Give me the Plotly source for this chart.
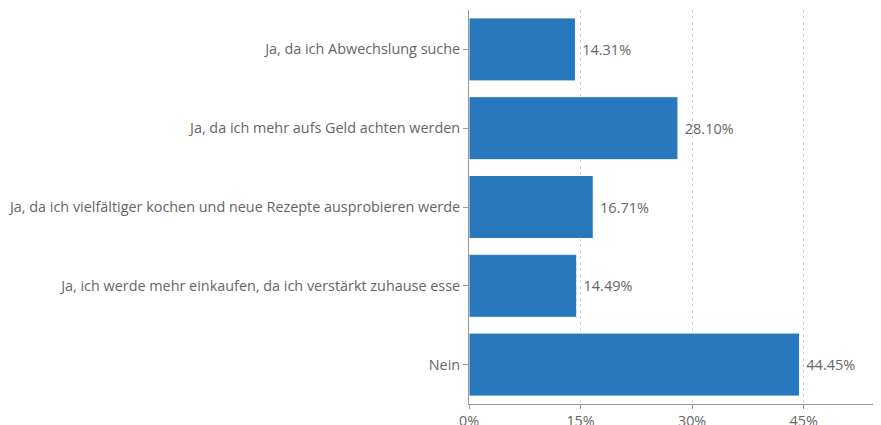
import plotly.graph_objects as go

categories = [
    "Ja, da ich Abwechslung suche",
    "Ja, da ich mehr aufs Geld achten werden",
    "Ja, da ich vielfältiger kochen und neue Rezepte ausprobieren werde",
    "Ja, ich werde mehr einkaufen, da ich verstärkt zuhause esse",
    "Nein",
]
values = [14.31, 28.10, 16.71, 14.49, 44.45]
labels = ["14.31%", "28.10%", "16.71%", "14.49%", "44.45%"]
tick_vals = [0, 15, 30, 45]
tick_text = ["0%", "15%", "30%", "45%"]

fig = go.Figure(go.Bar(
    x=values, y=categories, orientation="h",
    marker=dict(color="#2878bd", line=dict(color="white", width=1)),
    text=labels, texttemplate=" %{text}", textposition="outside", cliponaxis=False,
    textfont=dict(color="#666666", size=14.5),
))
# page body has an 8px default margin; figure is sized to the remaining area
fig.update_layout(
    width=873, height=417,
    margin=dict(l=461, r=3, t=2, b=21),
    paper_bgcolor="white", plot_bgcolor="white",
    font=dict(family="Open Sans", size=14.4, color="#666666"),
    bargap=0.2, showlegend=False,
)
fig.update_xaxes(
    range=[0, 55], tickvals=tick_vals, ticktext=tick_text,
    showgrid=True, gridcolor="#d0d0d0", griddash="dot", gridwidth=1,
    showline=True, linecolor="#999999", linewidth=1,
    ticks="outside", ticklen=4, tickcolor="#999999",
    zeroline=False, automargin=False,
)
fig.update_yaxes(
    autorange="reversed", showline=True, linecolor="#999999", linewidth=1,
    ticks="outside", ticklen=5, tickcolor="#999999", showgrid=False,
    automargin=False,
)
fig.write_html("out.html")
